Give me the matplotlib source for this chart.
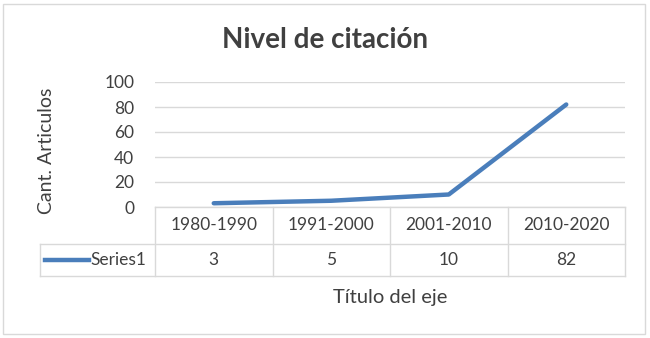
import matplotlib.pyplot as plt
from matplotlib.patches import Rectangle

# Datos
periodos = ['1980-1990', '1991-2000', '2001-2010', '2010-2020']
articulos = [3, 5, 10, 82]
serie = 'Series1'
y_ticks = [0, 20, 40, 60, 80, 100]

azul = '#4a7ebb'
gris = '#d9d9d9'
texto = '#404040'
plt.rcParams['font.family'] = ['Lato', 'DejaVu Sans']

W, H = 650, 338
fig = plt.figure(figsize=(W / 100, H / 100), dpi=100)
fig.patch.set_facecolor('white')

# borde exterior
fig.add_artist(Rectangle((3 / W, 4 / H), 642 / W, 330 / H, transform=fig.transFigure,
                         fill=False, edgecolor=gris, lw=1))

# area del grafico (pixeles: x 155-625, y 82-207)
x0, x1, ytop, ybot = 155, 625, 82, 207
ax = fig.add_axes([x0 / W, 1 - ybot / H, (x1 - x0) / W, (ybot - ytop) / H])
ax.plot(range(len(articulos)), articulos, color=azul, lw=3.2, solid_capstyle='round')
ax.set_xlim(-0.5, len(periodos) - 0.5)
ax.set_ylim(0, 100)
ax.set_yticks(y_ticks)
ax.set_xticks([])
ax.grid(axis='y', color=gris, lw=1)
ax.set_axisbelow(True)
for s in ax.spines.values():
    s.set_visible(False)
ax.tick_params(axis='y', length=0, pad=15, labelsize=12.5, labelcolor=texto)
ax.set_ylabel('Cant. Articulos', fontsize=14, color=texto)
ax.yaxis.set_label_coords((55 - x0) / (x1 - x0), 0.45)

# tabla de datos
tx0, trow1, trow2, trow3 = 40, 207, 244, 276
tab = fig.add_axes([tx0 / W, 1 - trow3 / H, (x1 - tx0) / W, (trow3 - trow1) / H])
tab.set_xlim(tx0, x1)
tab.set_ylim(trow3, trow1)
tab.axis('off')
cw = (x1 - x0) / len(periodos)
kw = dict(color=gris, lw=1, clip_on=False)
tab.plot([x0, x1], [trow1, trow1], **kw)
tab.plot([tx0, x1], [trow2, trow2], **kw)
tab.plot([tx0, x1], [trow3, trow3], **kw)
tab.plot([tx0, tx0], [trow2, trow3], **kw)
for i in range(len(periodos) + 1):
    tab.plot([x0 + i * cw] * 2, [trow1, trow3], **kw)
for i, (p, v) in enumerate(zip(periodos, articulos)):
    cx = x0 + (i + 0.5) * cw
    tab.text(cx, (trow1 + trow2) / 2, p, ha='center', va='center', fontsize=12.5, color=texto)
    tab.text(cx, (trow2 + trow3) / 2, str(v), ha='center', va='center', fontsize=12.5, color=texto)
tab.plot([45, 89], [(trow2 + trow3) / 2] * 2, color=azul, lw=3.2, clip_on=False)
tab.text(90, (trow2 + trow3) / 2, serie, ha='left', va='center', fontsize=12.5, color=texto)

fig.text(390 / W, 1 - 298 / H, 'Título del eje', ha='center', va='center', fontsize=14.5, color=texto)
fig.text(325 / W, 1 - 40 / H, 'Nivel de citación', ha='center', va='center', fontsize=20,
         fontweight='bold', color=texto)

fig.savefig('out.png', dpi=100)
